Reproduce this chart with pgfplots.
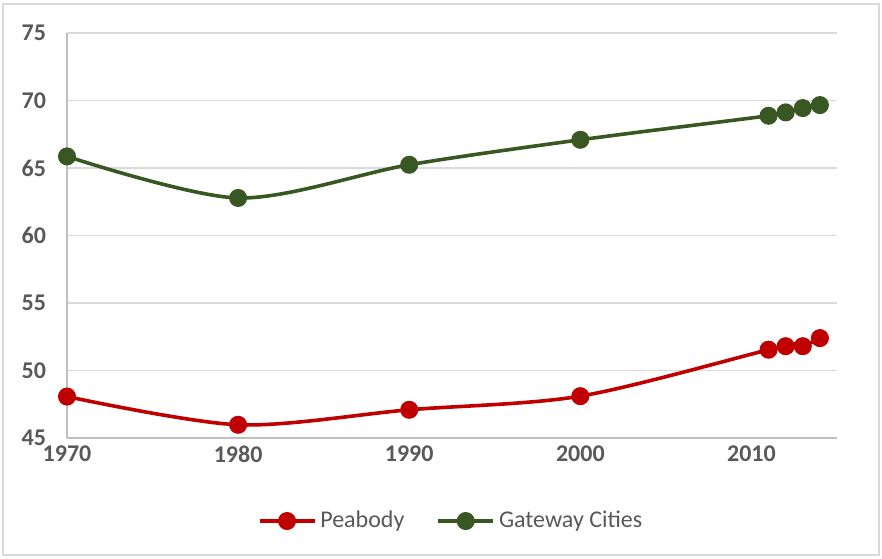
\documentclass[border=0pt]{standalone}
\usepackage{pgfplots}
\pgfplotsset{compat=1.18}
\usepackage{fontspec}
\setmainfont{Carlito}
\definecolor{pbred}{HTML}{C00000}
\definecolor{gcgreen}{HTML}{385723}
\definecolor{txtgray}{HTML}{595959}
\definecolor{gridgray}{HTML}{D9D9D9}
\definecolor{axgray}{HTML}{BFBFBF}
\begin{document}
\begin{tikzpicture}
\useasboundingbox (0,0) rectangle (441pt,279pt);
\draw[gridgray, line width=0.8pt] (1.5pt,1.5pt) rectangle (439.5pt,277pt);
\begin{axis}[
    at={(33.5pt,60pt)}, anchor=south west,
    scale only axis, width=385pt, height=202.5pt,
    xmin=1970, xmax=2015, ymin=45, ymax=75,
    xtick={1970,1980,1990,2000,2010},
    ytick={45,50,55,60,65,70,75},
    major tick length=0pt,
    axis x line*=bottom, axis y line*=left,
    axis line style={axgray, line width=0.9pt},
    ymajorgrids, grid style={gridgray, line width=0.9pt},
    /pgf/number format/assume math mode=true,
    /pgf/number format/set thousands separator={},
    ticklabel style={font=\fontsize{12}{14}\selectfont\bfseries, text=txtgray},
    yticklabel style={xshift=-7pt},
    xticklabel style={yshift=-0.5pt},
    legend columns=2,
    legend style={draw=none, at={(0.5,-0.205)}, anchor=center,
        font=\fontsize{12}{14}\selectfont, text=txtgray,
        /tikz/every even column/.append style={column sep=14pt},
        inner sep=0pt},
    legend image code/.code={
        \draw[#1, mark repeat=2, mark phase=2] plot coordinates {(0pt,0pt) (13.75pt,0pt) (27.5pt,0pt)};},
    every axis plot/.append style={line width=1.8pt, smooth, tension=0.5,
        mark=*, mark size=3.6pt},
]
\addplot[pbred, mark options={fill=pbred, draw=pbred}] coordinates {
    (1970,48.07) (1980,45.98) (1990,47.09) (2000,48.1)
    (2011,51.54) (2012,51.8) (2013,51.8) (2014,52.4)};
\addlegendentry{Peabody}
\addplot[gcgreen, mark options={fill=gcgreen, draw=gcgreen}] coordinates {
    (1970,65.86) (1980,62.78) (1990,65.24) (2000,67.09)
    (2011,68.87) (2012,69.12) (2013,69.44) (2014,69.66)};
\addlegendentry{Gateway Cities}
\end{axis}
\end{tikzpicture}
\end{document}
